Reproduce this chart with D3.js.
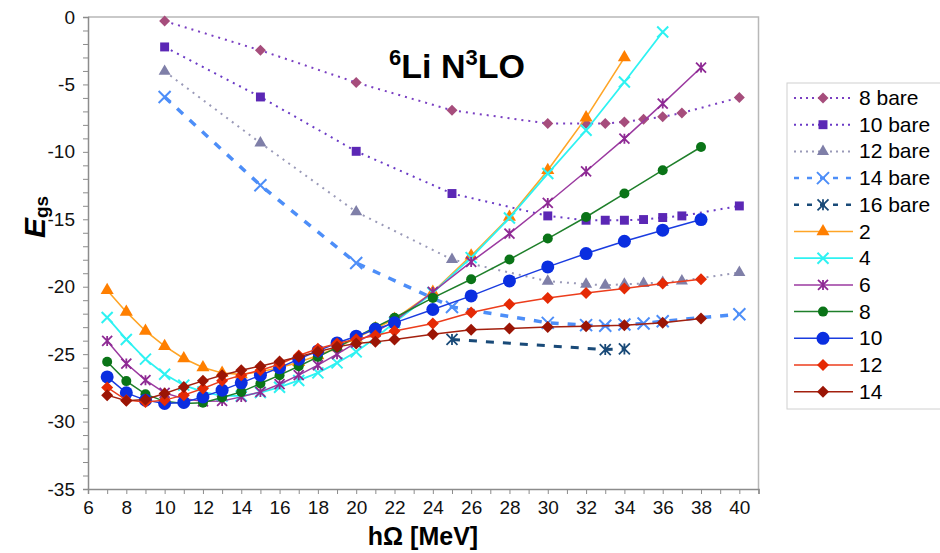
<!DOCTYPE html>
<html>
<head>
<meta charset="utf-8">
<script src="https://cdn.jsdelivr.net/npm/d3@7"></script>
<style>
  body { margin: 0; background: #fff; }
  svg { font-family: "Liberation Sans", Arial, sans-serif; }
  .axis path, .axis line { stroke: #8c8c8c; }
  .axis text { font-size: 19px; fill: #111; }
</style>
</head>
<body>
<svg width="940" height="553"></svg>
<script>
// hbar-Omega values of the basis calculations
var hwFull = [7,8,9,10,11,12,13,14,15,16,17,18,19,20,21,22,24,26,28,30,32,34,36,38];
var hwBare = [10,15,20,25,30,32,33,34,35,36,37,40];
var hw14bare = [10,15,20,25,30,32,33,34,35,36,40];
var hw16bare = [25,33,34];

var e8bare  = [-0.30,-2.47,-4.86,-6.92,-7.90,-7.90,-7.90,-7.78,-7.58,-7.40,-7.12,-5.97];
var e10bare = [-2.22,-5.93,-9.96,-13.09,-14.75,-15.07,-15.07,-15.07,-15.02,-14.87,-14.75,-14.01];
var e12bare = [-4.03,-9.34,-14.45,-17.98,-19.59,-19.81,-19.89,-19.81,-19.76,-19.69,-19.57,-18.95];
var e14bare = [-5.93,-12.48,-18.24,-21.50,-22.68,-22.85,-22.90,-22.80,-22.73,-22.56,-22.04];
var e16bare = [-23.91,-24.66,-24.61];

var e2  = [-20.26,-21.87,-23.28,-24.41,-25.32,-25.99,-26.40,-26.50,-26.30,-26.00,-25.60,-25.10,-24.50,-23.80,-23.10,-22.40,-20.40,-17.70,-14.83,-11.36,-7.46,-3.01];
var e4  = [-22.28,-23.91,-25.37,-26.49,-27.30,-27.80,-28.10,-28.10,-27.85,-27.45,-26.95,-26.39,-25.65,-24.83,-23.80,-22.65,-20.45,-17.84,-14.90,-11.61,-8.40,-4.82,-1.11];
var e6  = [-24.02,-25.70,-26.93,-27.87,-28.30,-28.50,-28.47,-28.17,-27.80,-27.23,-26.56,-25.82,-25.00,-24.15,-23.35,-22.55,-20.39,-18.16,-16.06,-13.79,-11.44,-9.02,-6.42,-3.75];
var e8  = [-25.57,-27.00,-27.97,-28.50,-28.66,-28.61,-28.21,-27.80,-27.18,-26.56,-25.90,-25.20,-24.50,-23.75,-23.00,-22.30,-20.83,-19.45,-17.98,-16.43,-14.83,-13.09,-11.36,-9.64];
var e10 = [-26.69,-27.87,-28.41,-28.66,-28.58,-28.17,-27.67,-27.13,-26.56,-26.00,-25.37,-24.76,-24.17,-23.67,-23.15,-22.68,-21.69,-20.68,-19.57,-18.53,-17.54,-16.63,-15.81,-15.02];
var e12 = [-27.47,-28.41,-28.54,-28.41,-28.04,-27.55,-26.98,-26.56,-26.19,-25.75,-25.10,-24.60,-24.21,-23.90,-23.62,-23.28,-22.73,-21.91,-21.30,-20.83,-20.46,-20.14,-19.76,-19.44];
var e14 = [-28.04,-28.45,-28.36,-27.92,-27.43,-26.98,-26.56,-26.19,-25.89,-25.55,-25.20,-24.83,-24.46,-24.21,-24.09,-23.91,-23.52,-23.20,-23.10,-22.98,-22.93,-22.85,-22.68,-22.36];

var seriesNames = ['8 bare','10 bare','12 bare','14 bare','16 bare','2','4','6','8','10','12','14'];
var xTicks = d3.range(6, 42);
var yTicks = d3.range(-35, 1);

var series = [
  {x: hwBare,   y: e8bare,  line: '#7a3fc2', mark: '#a64d7c', sym: 'diamond', size: 5.5, w: 2,   dash: '2,5'},
  {x: hwBare,   y: e10bare, line: '#6a3ac6', mark: '#5b27b5', sym: 'square',  size: 5,   w: 2,   dash: '2,5'},
  {x: hwBare,   y: e12bare, line: '#9a9ab8', mark: '#7f7fa8', sym: 'triangle',size: 6,   w: 2,   dash: '2,5'},
  {x: hw14bare, y: e14bare, line: '#4d8ef8', mark: '#4d8ef8', sym: 'x',       size: 6,   w: 3.5, dash: '8,9'},
  {x: hw16bare, y: e16bare, line: '#194a78', mark: '#194a78', sym: 'star',    size: 5.5, w: 3,   dash: '8,9'},
  {x: hwFull.slice(0, e2.length), y: e2,  line: '#ffa526', mark: '#ff7f00', sym: 'triangle', size: 6.5, w: 1.6},
  {x: hwFull.slice(0, e4.length), y: e4,  line: '#2ef2f2', mark: '#2ef2f2', sym: 'x',        size: 5.5, w: 1.8},
  {x: hwFull, y: e6,  line: '#9b3aa0', mark: '#8e2a94', sym: 'star',    size: 5, w: 1.5},
  {x: hwFull, y: e8,  line: '#1e7f2a', mark: '#0a7417', sym: 'circle',  size: 5, w: 1.5},
  {x: hwFull, y: e10, line: '#1a3ce0', mark: '#0a2ee0', sym: 'circle',  size: 6.5, w: 1.5},
  {x: hwFull, y: e12, line: '#ec3d1c', mark: '#e52a05', sym: 'diamond', size: 6, w: 1.5},
  {x: hwFull, y: e14, line: '#a3200e', mark: '#9b1505', sym: 'diamond', size: 6, w: 1.5}
];

var svg = d3.select('svg');
var plotL = 88, plotR = 758.5, plotT = 17, plotB = 489;

var x = d3.scaleLinear().domain([6, 41]).range([plotL, plotR]);
var y = d3.scaleLinear().domain([-35, 0]).range([plotB, plotT]);

function drawMarker(g, s, cx, cy){
    var r = s.size, p;
    if(s.sym == 'x' || s.sym == 'star'){
        p = 'M' + (-r) + ',' + (-r) + 'L' + r + ',' + r + 'M' + (-r) + ',' + r + 'L' + r + ',' + (-r);
        if(s.sym == 'star') p += 'M0,' + (-r) + 'L0,' + r;
        g.append('path')
            .attr('d', p)
            .attr('transform', 'translate(' + cx + ',' + cy + ')')
            .attr('fill', 'none')
            .attr('stroke', s.mark)
            .attr('stroke-width', s.sym == 'star' ? 1.8 : 2);
        return;
    }
    if(s.sym == 'diamond'){
        p = 'M0,' + (-r) + 'L' + r + ',0L0,' + r + 'L' + (-r) + ',0Z';
    }else{
        var types = {square: d3.symbolSquare, triangle: d3.symbolTriangle, circle: d3.symbolCircle};
        var area = s.sym == 'triangle' ? r * r * 1.75 : s.sym == 'square' ? r * r * 3.2 : Math.PI * r * r;
        p = d3.symbol().type(types[s.sym]).size(area)();
    }
    g.append('path')
        .attr('d', p)
        .attr('transform', 'translate(' + cx + ',' + cy + ')')
        .attr('fill', s.mark);
}

// plot frame (top and right)
svg.append('path')
    .attr('d', 'M' + plotL + ',' + plotT + 'H' + plotR + 'V' + plotB)
    .attr('fill', 'none')
    .attr('stroke', '#b8b8b8')
    .attr('stroke-width', 1.5);

var xAxis = svg.append('g')
    .attr('class', 'axis')
    .attr('transform', 'translate(0,' + plotB + ')')
    .call(d3.axisBottom(x).tickValues(xTicks).tickSize(5).tickPadding(7)
        .tickFormat(function(d){ return (d % 2 == 0 && d <= 40) ? String(d) : ''; }));
xAxis.select('.domain').attr('stroke-width', 1.5);

var yAxis = svg.append('g')
    .attr('class', 'axis')
    .attr('transform', 'translate(' + plotL + ',0)')
    .call(d3.axisLeft(y).tickValues(yTicks).tickSize(5).tickPadding(8)
        .tickFormat(function(d){ return d % 5 == 0 ? String(d) : ''; }));
yAxis.select('.domain').attr('stroke-width', 1.5);

var lineGen = d3.line().x(function(d){ return x(d[0]); }).y(function(d){ return y(d[1]); });

series.forEach(function(s){
    var pts = s.x.map(function(v, i){ return [v, s.y[i]]; });
    var g = svg.append('g');
    g.append('path')
        .attr('d', lineGen(pts))
        .attr('fill', 'none')
        .attr('stroke', s.line)
        .attr('stroke-width', s.w)
        .attr('stroke-dasharray', s.dash || null);
    pts.forEach(function(p){ drawMarker(g, s, x(p[0]), y(p[1])); });
});

// title
var title = svg.append('text')
    .attr('x', 389).attr('y', 78)
    .style('font-size', '34px').style('font-weight', 'bold');
title.append('tspan').text('6').attr('dy', -13).style('font-size', '22px');
title.append('tspan').text('Li N').attr('dy', 13);
title.append('tspan').text('3').attr('dy', -13).style('font-size', '22px');
title.append('tspan').text('LO').attr('dy', 13);

// axis titles
svg.append('text')
    .attr('x', 423).attr('y', 545)
    .attr('text-anchor', 'middle')
    .style('font-size', '25px').style('font-weight', 'bold')
    .text('hΩ [MeV]');

var yl = svg.append('text')
    .attr('transform', 'translate(45,238) rotate(-90)')
    .style('font-weight', 'bold');
yl.append('tspan').text('E').style('font-size', '30px').style('font-style', 'italic');
yl.append('tspan').text('gs').attr('dy', 3).style('font-size', '19px');

// legend
var lg = svg.append('g');
lg.append('rect')
    .attr('x', 787).attr('y', 83).attr('width', 170).attr('height', 326)
    .attr('fill', '#fff').attr('stroke', '#d0d0d0');
series.forEach(function(s, i){
    var ly = 98 + i * 26.7;
    lg.append('line')
        .attr('x1', 794).attr('x2', 853).attr('y1', ly).attr('y2', ly)
        .attr('stroke', s.line)
        .attr('stroke-width', s.dash ? Math.min(s.w, 2.5) : s.w)
        .attr('stroke-dasharray', s.dash ? (s.w > 2.5 ? '5,8' : '2,4') : null);
    drawMarker(lg, s, 823, ly);
    lg.append('text')
        .attr('x', 859).attr('y', ly + 7)
        .style('font-size', '21px')
        .text(seriesNames[i]);
});
</script>
</body>
</html>
